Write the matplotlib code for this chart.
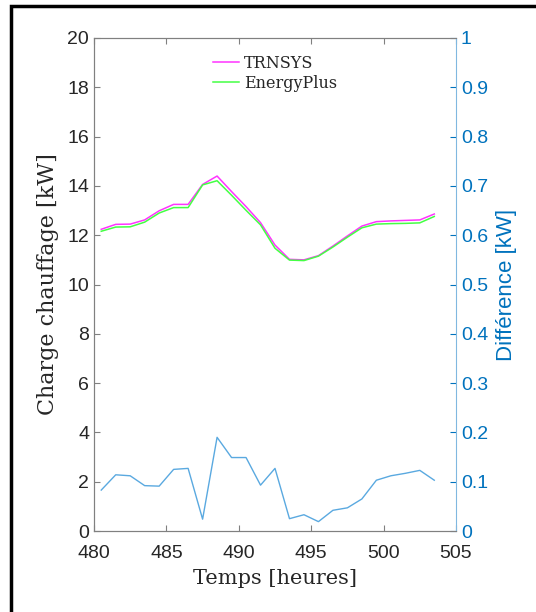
import numpy as np
import matplotlib.pyplot as plt
from matplotlib.patches import Rectangle

# hours (mid-hour samples)
hours = [480.5, 481.5, 482.5, 483.5, 484.5, 485.5, 486.5, 487.5, 488.5, 489.5,
         490.5, 491.5, 492.5, 493.5, 494.5, 495.5, 496.5, 497.5, 498.5, 499.5,
         500.5, 501.5, 502.5, 503.5]
trnsys = [12.24, 12.44, 12.45, 12.62, 12.99, 13.25, 13.25, 14.06, 14.40, 13.77,
          13.16, 12.51, 11.60, 11.02, 11.00, 11.17, 11.56, 11.97, 12.37, 12.55,
          12.58, 12.60, 12.62, 12.86]
energyplus = [12.16, 12.33, 12.34, 12.53, 12.90, 13.12, 13.12, 14.04, 14.21, 13.62,
              13.01, 12.42, 11.47, 10.99, 10.97, 11.15, 11.52, 11.92, 12.30, 12.45,
              12.47, 12.48, 12.50, 12.76]
difference = [0.083, 0.114, 0.112, 0.092, 0.091, 0.125, 0.127, 0.024, 0.190, 0.149,
              0.149, 0.093, 0.127, 0.025, 0.033, 0.019, 0.042, 0.047, 0.065, 0.103,
              0.112, 0.117, 0.123, 0.103]

serif = 'DejaVu Serif'
sans = 'Liberation Sans'
blue = '#0072BD'
gray = '#262626'

fig = plt.figure(figsize=(5.36, 6.12), dpi=100)
ax = fig.add_axes([94/536, 1 - 531/612, (456-94)/536, (531-38)/612])
ax2 = ax.twinx()

ax.plot(hours, trnsys, color='#FF33FF', lw=1.1, label='TRNSYS')
ax.plot(hours, energyplus, color='#44FF44', lw=1.1, label='EnergyPlus')
ax2.plot(hours, difference, color='#5AA9E0', lw=1.0)

ax.set_xlim(480, 505)
ax.set_ylim(0, 20)
ax2.set_ylim(0, 1)
ax.set_xticks(np.arange(480, 506, 5))
ax.set_yticks(np.arange(0, 21, 2))
ax2.set_yticks(np.arange(0, 1.01, 0.1))
ax2.set_yticklabels(['0'] + ['%.1f' % v for v in np.arange(0.1, 0.95, 0.1)] + ['1'])

ax.tick_params(axis='both', direction='in', length=4, colors='#808080',
               labelcolor=gray, labelsize=14, top=True)
ax.tick_params(axis='x', pad=10)
ax2.tick_params(axis='y', direction='in', length=4, colors=blue,
                labelcolor=blue, labelsize=14)
for lab in ax.get_xticklabels() + ax.get_yticklabels() + ax2.get_yticklabels():
    lab.set_family(sans)

for s in ['left', 'top', 'bottom']:
    ax.spines[s].set_color('#808080')
    ax2.spines[s].set_color('#808080')
ax2.spines['right'].set_color('#80B8E0')
ax.spines['right'].set_visible(False)

ax.set_xlabel('Temps [heures]', family=serif, fontsize=15, color=gray, labelpad=5)
ax.set_ylabel('Charge chauffage [kW]', family=serif, fontsize=16, color=gray, labelpad=6)
ax2.set_ylabel('Différence [kW]', family=sans, fontsize=16, color=blue, labelpad=6)

leg = ax.legend(loc='upper center', frameon=False, prop={'family': serif, 'size': 11.5},
                handlelength=1.6, handletextpad=0.3, labelspacing=0.2,
                bbox_to_anchor=(0.5, 0.995))
for t in leg.get_texts():
    t.set_color(gray)

fig.patches.append(Rectangle((11/536, -0.1), 1.2, 1 - 6/612 + 0.1,
                             transform=fig.transFigure, fill=False,
                             edgecolor='black', lw=2.5))

fig.savefig('out.png', dpi=100)
